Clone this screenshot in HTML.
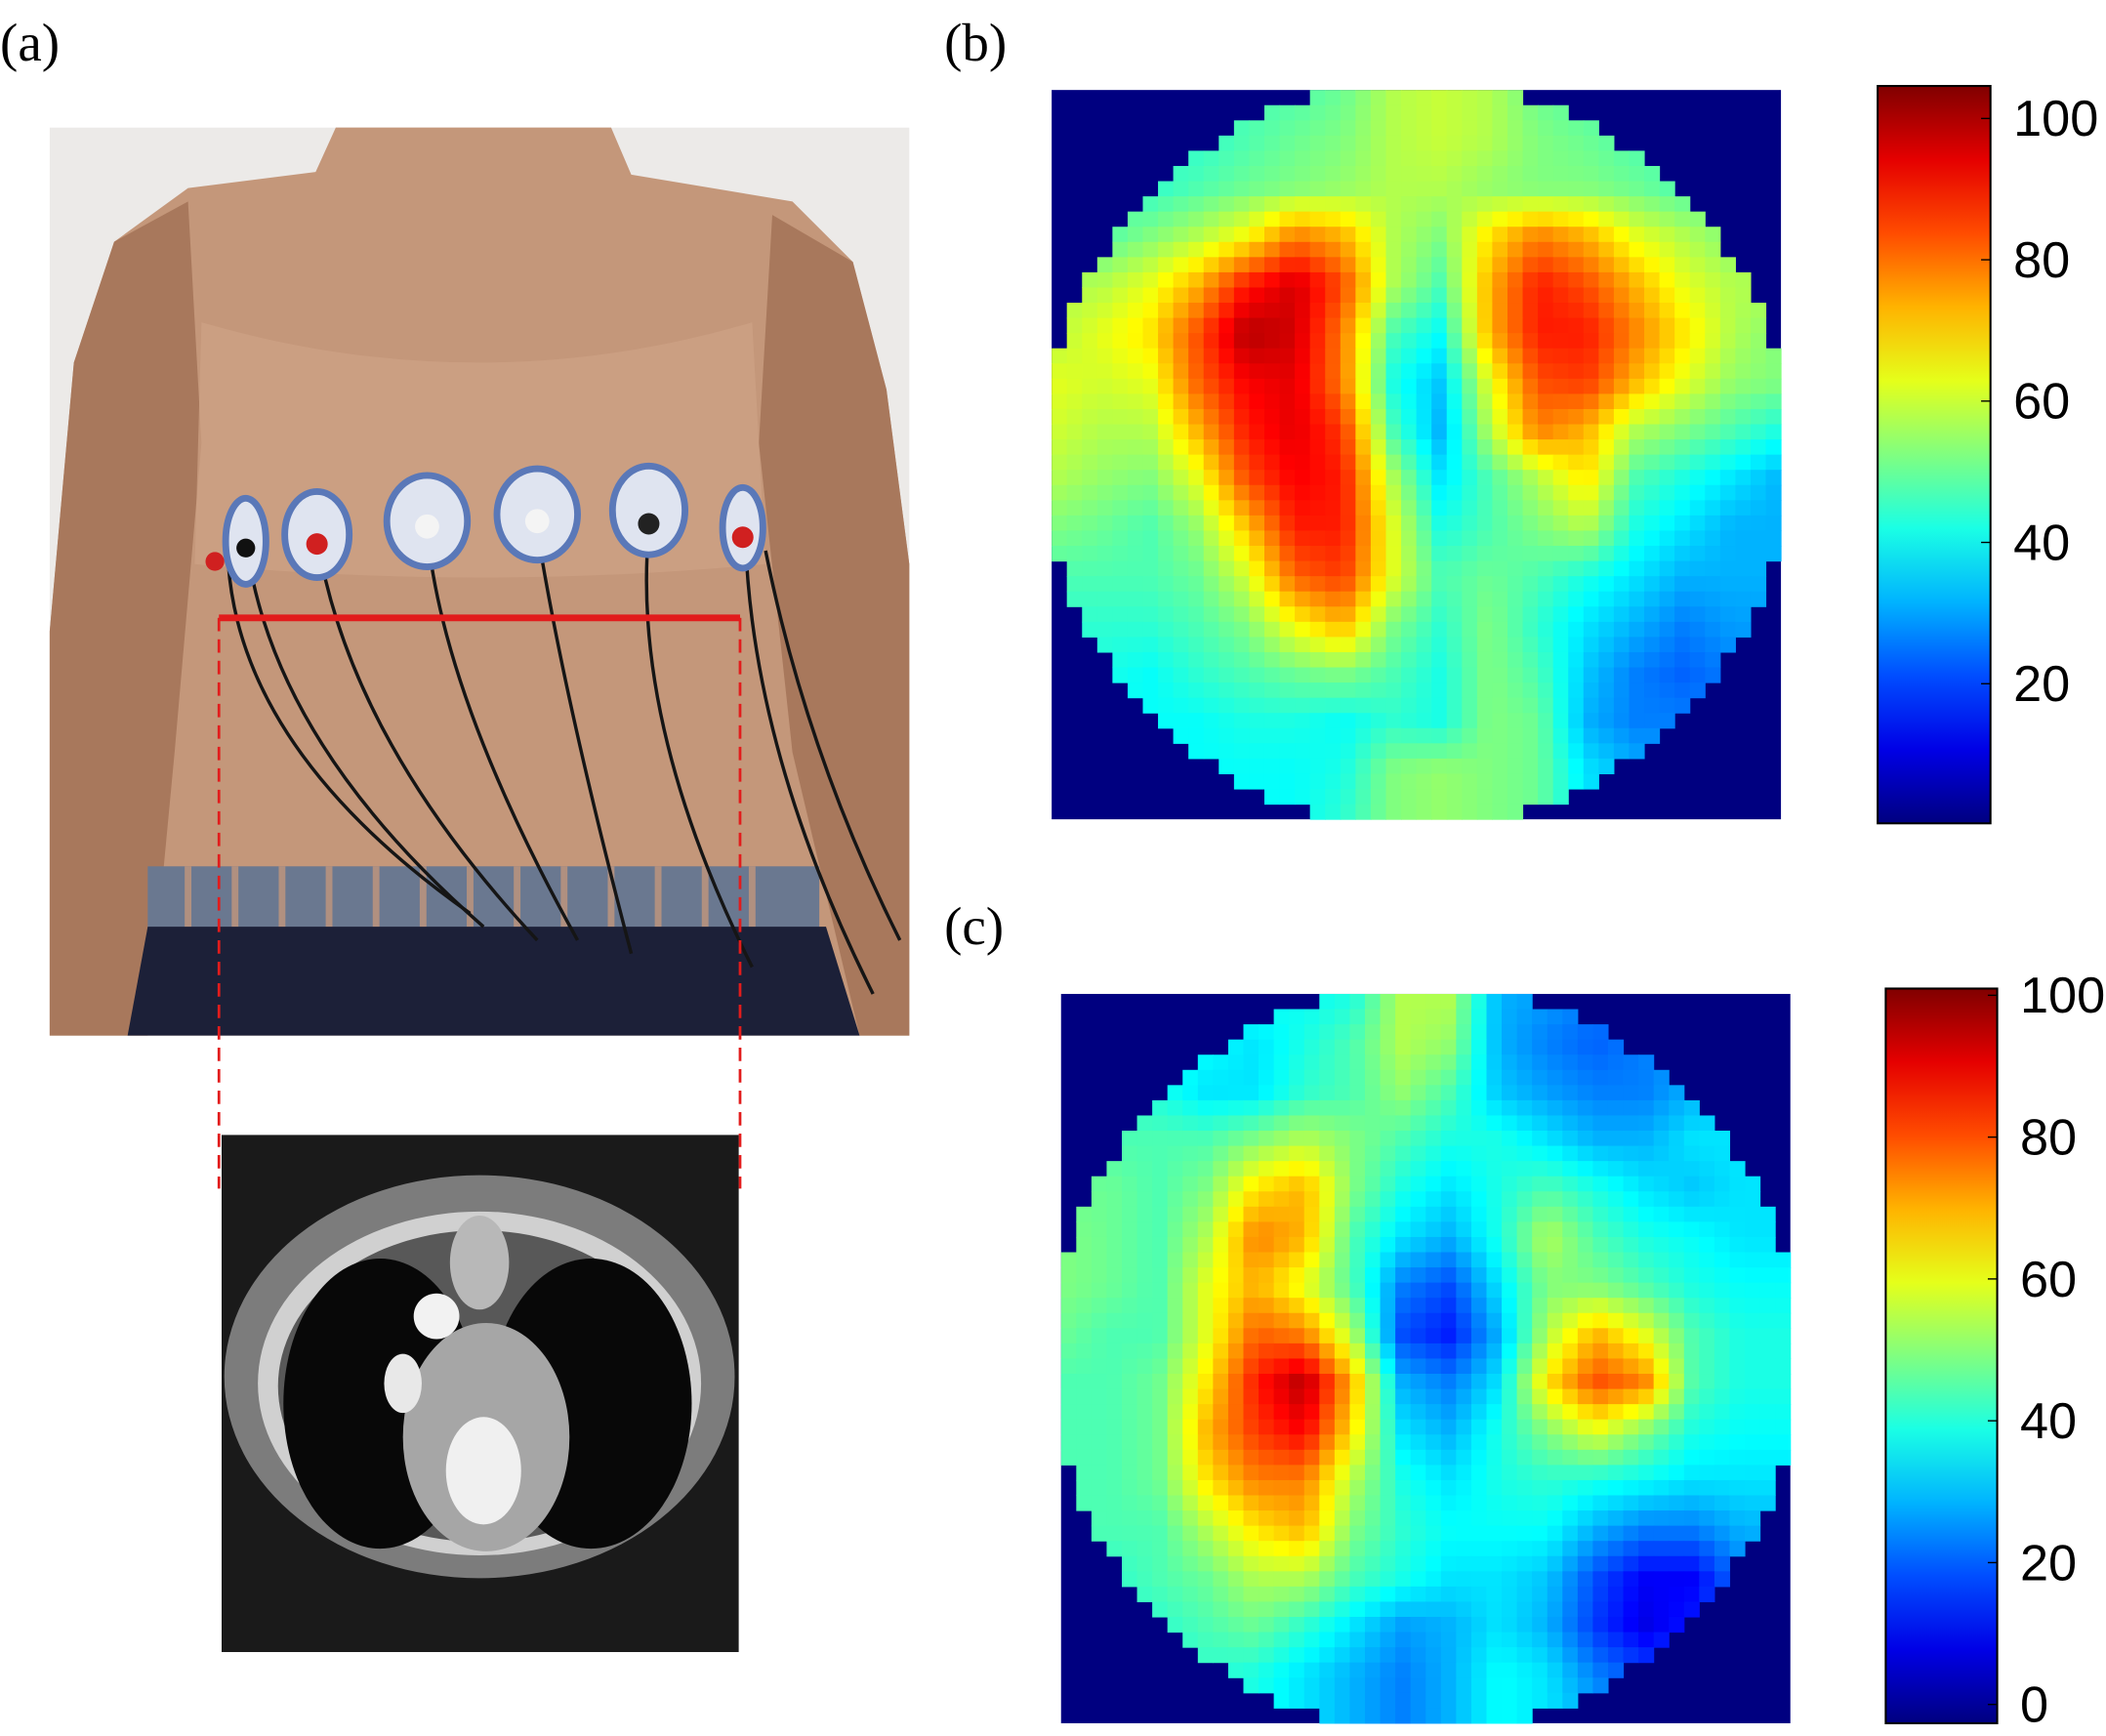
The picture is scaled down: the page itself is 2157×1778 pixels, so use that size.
<!DOCTYPE html>
<html><head><meta charset="utf-8"><style>
html,body{margin:0;padding:0;background:#fff;}
svg{display:block;}
text{font-family:"Liberation Serif",serif;}
.tick{font-family:"Liberation Sans",sans-serif;font-size:38px;}
</style></head><body>
<svg id="fig" width="2157" height="1778" viewBox="0 0 1568 1292.5" xmlns="http://www.w3.org/2000/svg">
<text x="0" y="45" font-size="40">(a)</text>
<text x="703" y="45" font-size="40">(b)</text>
<text x="703" y="703" font-size="40">(c)</text>

<g>
<rect x="37" y="95" width="640" height="676" fill="#eceae8"/>
<path d="M250,95 L455,95 L470,130 L590,150 L635,195 L660,290 L677,420 L677,771 L37,771 L37,470 L55,270 L85,180 L140,140 L235,128 Z" fill="#c4977a"/>
<path d="M37,470 L55,270 L85,180 L140,150 L150,330 L130,560 L110,771 L37,771 Z" fill="#a8785c"/>
<path d="M677,420 L660,290 L635,195 L575,160 L565,330 L590,560 L640,771 L677,771 Z" fill="#a8785c"/>
<path d="M150,240 Q357,300 560,240 L570,420 Q357,440 145,420 Z" fill="#cfa386" opacity="0.7"/>
<rect x="110" y="645" width="500" height="50" fill="#6a7890"/>
<g stroke="#b09080" stroke-width="5">
<line x1="140" y1="645" x2="140" y2="695"/><line x1="175" y1="645" x2="175" y2="695"/><line x1="210" y1="645" x2="210" y2="695"/><line x1="245" y1="645" x2="245" y2="695"/><line x1="280" y1="645" x2="280" y2="695"/><line x1="315" y1="645" x2="315" y2="695"/><line x1="350" y1="645" x2="350" y2="695"/><line x1="385" y1="645" x2="385" y2="695"/><line x1="420" y1="645" x2="420" y2="695"/><line x1="455" y1="645" x2="455" y2="695"/><line x1="490" y1="645" x2="490" y2="695"/><line x1="525" y1="645" x2="525" y2="695"/><line x1="560" y1="645" x2="560" y2="695"/>
</g>
<path d="M95,771 L110,690 L615,690 L640,771 Z" fill="#1c2038"/>
<g fill="none" stroke="#151515" stroke-width="2.5">
<path d="M183,400 Q200,550 360,690"/><path d="M236,400 Q260,550 400,700"/><path d="M318,395 Q330,520 430,700"/><path d="M400,395 Q420,520 470,710"/><path d="M483,395 Q470,540 560,720"/><path d="M555,400 Q560,560 650,740"/><path d="M170,420 Q180,560 350,680"/><path d="M570,410 Q600,560 670,700"/>
</g>
<g fill="#dfe4f0" stroke="#5a78b8" stroke-width="5">
<ellipse cx="183" cy="403" rx="15" ry="32"/><ellipse cx="236" cy="398" rx="24" ry="32"/><ellipse cx="318" cy="388" rx="30" ry="34"/><ellipse cx="400" cy="383" rx="30" ry="34"/><ellipse cx="483" cy="380" rx="27" ry="33"/><ellipse cx="553" cy="393" rx="15" ry="30"/>
</g>
<g><circle cx="236" cy="405" r="8" fill="#d02020"/><circle cx="553" cy="400" r="8" fill="#d02020"/><circle cx="160" cy="418" r="7" fill="#d02020"/><circle cx="183" cy="408" r="7" fill="#111"/><circle cx="483" cy="390" r="8" fill="#222"/><circle cx="318" cy="392" r="9" fill="#f4f4f4"/><circle cx="400" cy="388" r="9" fill="#f4f4f4"/></g>
</g>
<line x1="163" y1="460" x2="551" y2="460" stroke="#e21c1c" stroke-width="5"/>
<line x1="163" y1="460" x2="163" y2="885" stroke="#e21c1c" stroke-width="2" stroke-dasharray="10,6"/>
<line x1="551" y1="460" x2="551" y2="885" stroke="#e21c1c" stroke-width="2" stroke-dasharray="10,6"/>

<g>
<rect x="165" y="845" width="385" height="385" fill="#1a1a1a"/>
<ellipse cx="357" cy="1025" rx="190" ry="150" fill="#7c7c7c"/>
<ellipse cx="357" cy="1030" rx="165" ry="128" fill="#d0d0d0"/>
<ellipse cx="357" cy="1032" rx="150" ry="116" fill="#585858"/>
<ellipse cx="283" cy="1045" rx="72" ry="108" fill="#080808"/>
<ellipse cx="440" cy="1045" rx="75" ry="108" fill="#080808"/>
<ellipse cx="357" cy="940" rx="22" ry="35" fill="#b8b8b8"/>
<ellipse cx="362" cy="1070" rx="62" ry="85" fill="#a6a6a6"/>
<circle cx="325" cy="980" r="17" fill="#f2f2f2"/>
<ellipse cx="360" cy="1095" rx="28" ry="40" fill="#f0f0f0"/>
<ellipse cx="300" cy="1030" rx="14" ry="22" fill="#e8e8e8"/>
</g>

<g id="mapB"></g>
<g id="mapC"></g>
<g id="cbB"></g>
<g id="cbC"></g>
</svg>
<script>
const gridB = [
[45,45,45,45,45,45,48,55,57,55,48,45,45,45,45,45],
[45,45,45,42,45,48,50,55,57,55,50,48,45,45,45,45],
[50,50,42,45,48,50,52,55,55,52,50,50,48,45,50,50],
[50,45,50,55,62,75,70,55,50,65,75,70,60,55,50,50],
[55,55,60,70,85,92,80,55,45,70,85,80,70,60,55,55],
[55,60,65,80,95,92,75,45,38,70,85,85,75,65,55,50],
[60,58,60,78,88,90,75,40,32,60,80,82,70,60,52,50],
[58,55,55,70,85,90,82,45,30,55,75,70,55,50,45,40],
[55,52,50,60,80,88,85,55,35,45,55,65,45,40,35,30],
[50,48,45,52,68,85,85,60,40,45,50,55,40,35,30,30],
[45,45,45,48,58,78,82,60,45,48,45,40,35,30,30,30],
[42,42,42,45,50,62,70,50,42,50,42,35,30,25,28,28],
[40,40,38,42,45,48,50,45,40,50,45,32,25,22,25,25],
[38,38,38,38,40,40,38,42,40,50,48,30,25,25,25,25],
[38,38,38,38,38,38,40,50,52,50,48,35,30,30,30,30],
[38,38,38,38,38,38,42,50,52,50,48,35,30,30,30,30]];
const gridC = [
[40,40,40,40,40,38,40,55,55,30,28,25,25,25,25,25],
[40,40,40,38,35,40,45,55,52,30,25,22,25,28,28,28],
[42,42,40,35,35,42,45,52,45,32,28,25,25,30,30,30],
[45,45,45,45,50,55,50,45,40,40,35,30,30,35,35,35],
[48,48,45,50,65,70,50,40,35,40,45,40,35,32,35,35],
[50,48,45,55,75,70,45,35,30,40,55,45,40,38,35,35],
[50,48,45,60,70,60,45,25,20,35,50,50,45,40,38,38],
[48,45,45,60,78,75,55,20,15,30,55,70,60,45,40,40],
[45,45,48,65,85,95,70,30,25,35,65,80,75,45,40,40],
[45,45,48,70,82,88,65,35,30,40,50,60,50,40,38,38],
[45,45,48,65,75,75,55,40,35,40,42,40,38,35,35,35],
[45,45,45,55,65,70,50,42,38,38,38,30,25,25,30,30],
[42,42,45,48,55,55,45,40,35,35,32,20,12,12,25,25],
[42,42,42,45,48,42,35,28,30,35,30,18,10,15,25,25],
[40,40,40,42,40,35,30,25,30,38,35,25,20,25,25,25],
[40,40,40,40,40,35,30,25,30,38,35,30,25,25,25,25]];
const ticksB = [20,40,60,80,100];
const ticksC = [0,20,40,60,80,100];

const NS="http://www.w3.org/2000/svg";
function jet(v){
  let t=Math.max(0,Math.min(1,v/100));
  const f=(x)=>Math.max(0,Math.min(1,x));
  const r=f(Math.min(4*t-1.5,-4*t+4.5)), g=f(Math.min(4*t-0.5,-4*t+3.5)), b=f(Math.min(4*t+0.5,-4*t+2.5));
  return `rgb(${Math.round(r*255)},${Math.round(g*255)},${Math.round(b*255)})`;
}
function sample(grid,u,v){
  const n=grid.length-1, x=u*n, y=v*n;
  const x0=Math.min(Math.floor(x),n-1), y0=Math.min(Math.floor(y),n-1);
  const fx=x-x0, fy=y-y0;
  return grid[y0][x0]*(1-fx)*(1-fy)+grid[y0][x0+1]*fx*(1-fy)+grid[y0+1][x0]*(1-fx)*fy+grid[y0+1][x0+1]*fx*fy;
}
function drawMap(id,grid,X,Y,S){
  const g=document.getElementById(id), N=48, c=S/N;
  const bg=document.createElementNS(NS,'rect');
  
  
  bg.setAttribute('x',X);bg.setAttribute('y',Y);bg.setAttribute('width',S);bg.setAttribute('height',S);bg.setAttribute('fill',jet(0));
  g.appendChild(bg);
  for(let i=0;i<N;i++)for(let j=0;j<N;j++){
    const u=(j+0.5)/N, v=(i+0.5)/N;
    const d=Math.hypot(u-0.5,v-0.5);
    if(d>0.51) continue;
    const r=document.createElementNS(NS,'rect');
    
    
    r.setAttribute('x',X+j*c);r.setAttribute('y',Y+i*c);
    r.setAttribute('width',c+0.4);r.setAttribute('height',c+0.4);
    r.setAttribute('fill',jet(sample(grid,u,v)));
    g.appendChild(r);
  }
}
function drawBar(id,X,Y,W,H,ticks,ymin,ymax){
  const g=document.getElementById(id);
  const gid=id+'grad';
  const defs=document.createElementNS(NS,'defs');
  const lg=document.createElementNS(NS,'linearGradient');
  lg.setAttribute('id',gid);lg.setAttribute('x1','0');lg.setAttribute('y1','1');lg.setAttribute('x2','0');lg.setAttribute('y2','0');
  for(let k=0;k<=10;k++){const s=document.createElementNS(NS,'stop');s.setAttribute('offset',k/10);s.setAttribute('stop-color',jet(k*10));lg.appendChild(s);}
  defs.appendChild(lg);g.appendChild(defs);
  const r=document.createElementNS(NS,'rect');
  
  
  r.setAttribute('x',X);r.setAttribute('y',Y);r.setAttribute('width',W);r.setAttribute('height',H);
  r.setAttribute('fill',`url(#${gid})`);r.setAttribute('stroke','#000');r.setAttribute('stroke-width','1.5');
  g.appendChild(r);
  const yS=(v)=>Y+H-(v-ymin)/(ymax-ymin)*H;
  ticks.forEach(t=>{
    const y=yS(t);
    const l=document.createElementNS(NS,'line');
    
    
    l.setAttribute('x1',X+W-7);l.setAttribute('x2',X+W);l.setAttribute('y1',y);l.setAttribute('y2',y);l.setAttribute('stroke','#000');
    g.appendChild(l);
    const tx=document.createElementNS(NS,'text');
    
    
    tx.setAttribute('class','tick');tx.setAttribute('x',X+W+17);tx.setAttribute('y',y+13);
    tx.textContent=t;g.appendChild(tx);
  });
}
drawMap('mapB',gridB,783,67,543);
drawMap('mapC',gridC,790,740,543);
drawBar('cbB',1398,64,84,549,ticksB,0.24,104.6);
drawBar('cbC',1404,736,83,547,ticksC,-2.65,100.95);
</script>
</body></html>
